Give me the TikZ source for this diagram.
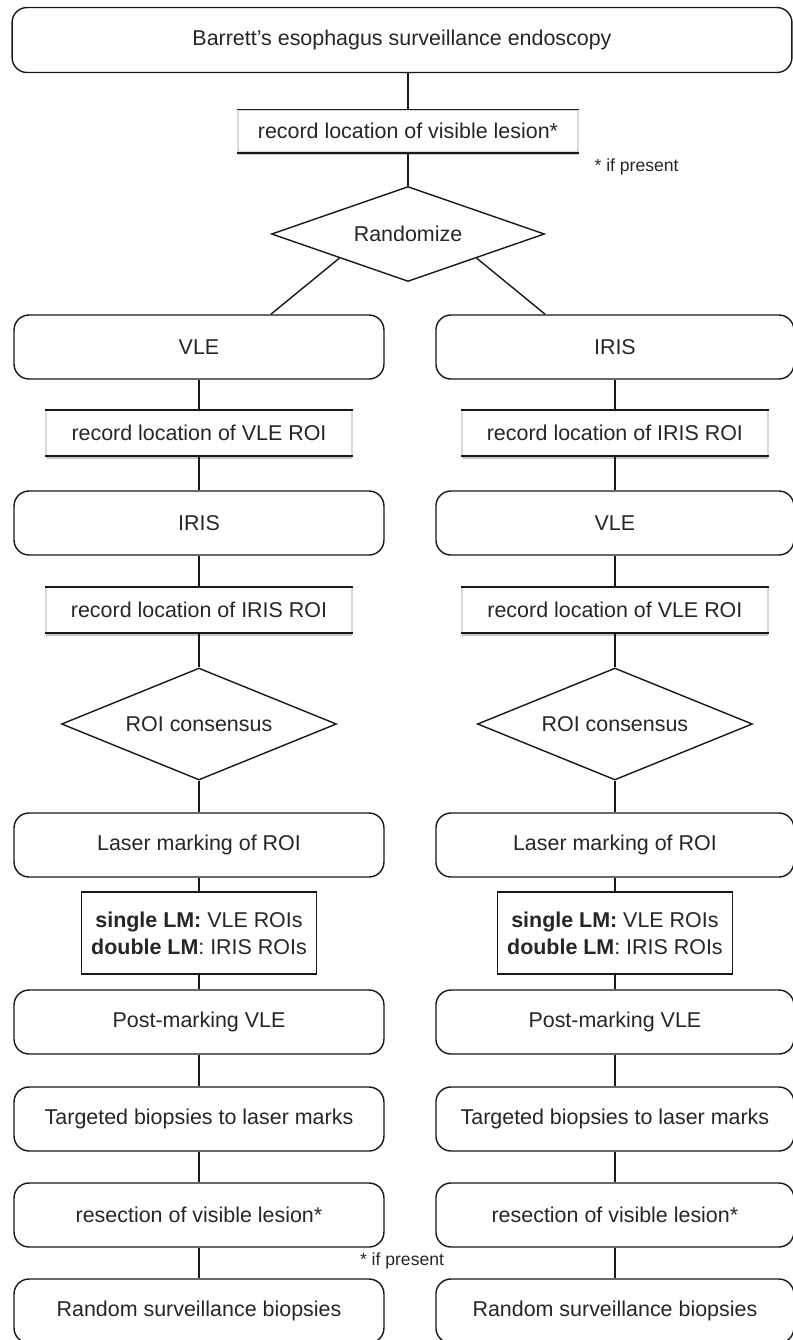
\documentclass[tikz,border=0pt]{standalone}
\usepackage{fontspec}
\setmainfont{Liberation Sans}
\usetikzlibrary{shapes.geometric,shadows}

\tikzset{
  every node/.style={font=\fontsize{12.2}{15.4}\selectfont, text=black!85},
  stage/.style={draw, rounded corners=0.3cm, minimum width=7.4cm, minimum height=1.28cm},
  record/.style={draw=gray!30, fill=white, minimum width=6.12cm, minimum height=0.9cm,
    drop shadow={shadow xshift=0pt, shadow yshift=-0.06cm, opacity=0.45},
    append after command={(\tikzlastnode.north west) edge (\tikzlastnode.north east)
      (\tikzlastnode.south west) edge[line width=1pt] (\tikzlastnode.south east)}},
  decide/.style={draw, diamond, aspect=2.45, inner sep=0pt, minimum width=5.5cm, minimum height=2.24cm},
  lmbox/.style={draw, align=center, minimum width=4.7cm, minimum height=1.64cm},
  note/.style={font=\fontsize{10}{12}\selectfont}
}

\begin{document}
\begin{tikzpicture}[x=0.02cm, y=-0.02cm, line width=0.8pt, draw=black!90]
\useasboundingbox (0,0) rectangle (793,1340);

\node[stage, minimum width=15.6cm, minimum height=1.3cm] (start) at (402,40) {Barrett’s esophagus surveillance endoscopy};
\node[record, minimum width=6.8cm, minimum height=0.84cm] (lesion) at (408,131) {record location of visible lesion*};
\node[note, anchor=west] (note1) at (588,167) {* if present};
\node[decide, aspect=2.9, minimum width=5.46cm, minimum height=1.9cm] (rand) at (408,234) {Randomize};
\draw (start.south -| lesion) -- (lesion);
\draw (lesion) -- (rand);

% VLE first
\begin{scope}
\node[stage] (l1) at (199,347) {VLE};
\node[record] (l2) at (199,433) {record location of VLE ROI};
\node[stage] (l3) at (199,523) {IRIS};
\node[record] (l4) at (199,610) {record location of IRIS ROI};
\node[decide] (l5) at (199,724) {ROI consensus};
\node[stage] (l6) at (199,845) {Laser marking of ROI};
\node[lmbox] (l7) at (199,933) {\textbf{single LM:} VLE ROIs\\\textbf{double LM}: IRIS ROIs};
\node[stage] (l8) at (199,1022) {Post-marking VLE};
\node[stage] (l9) at (199,1119) {Targeted biopsies to laser marks};
\node[stage] (l10) at (199,1215) {resection of visible lesion*};
\node[stage] (l11) at (199,1311) {Random surveillance biopsies};
\draw (l1)--(l2)--(l3)--(l4)--(l5)--(l6)--(l7)--(l8)--(l9)--(l10)--(l11);
\end{scope}

% IRIS first
\begin{scope}[xshift=8.32cm, stage/.append style={minimum width=7.16cm}]
\node[stage] (r1) at (199,347) {IRIS};
\node[record] (r2) at (199,433) {record location of IRIS ROI};
\node[stage] (r3) at (199,523) {VLE};
\node[record] (r4) at (199,610) {record location of VLE ROI};
\node[decide] (r5) at (199,724) {ROI consensus};
\node[stage] (r6) at (199,845) {Laser marking of ROI};
\node[lmbox] (r7) at (199,933) {\textbf{single LM:} VLE ROIs\\\textbf{double LM}: IRIS ROIs};
\node[stage] (r8) at (199,1022) {Post-marking VLE};
\node[stage] (r9) at (199,1119) {Targeted biopsies to laser marks};
\node[stage] (r10) at (199,1215) {resection of visible lesion*};
\node[stage] (r11) at (199,1311) {Random surveillance biopsies};
\draw (r1)--(r2)--(r3)--(r4)--(r5)--(r6)--(r7)--(r8)--(r9)--(r10)--(r11);
\end{scope}

\node[note] (note2) at (402,1261) {* if present};

\draw (rand.south west) -- (l1.north -| rand.west);
\draw (rand.south east) -- (r1.north -| rand.east);
\end{tikzpicture}
\end{document}
